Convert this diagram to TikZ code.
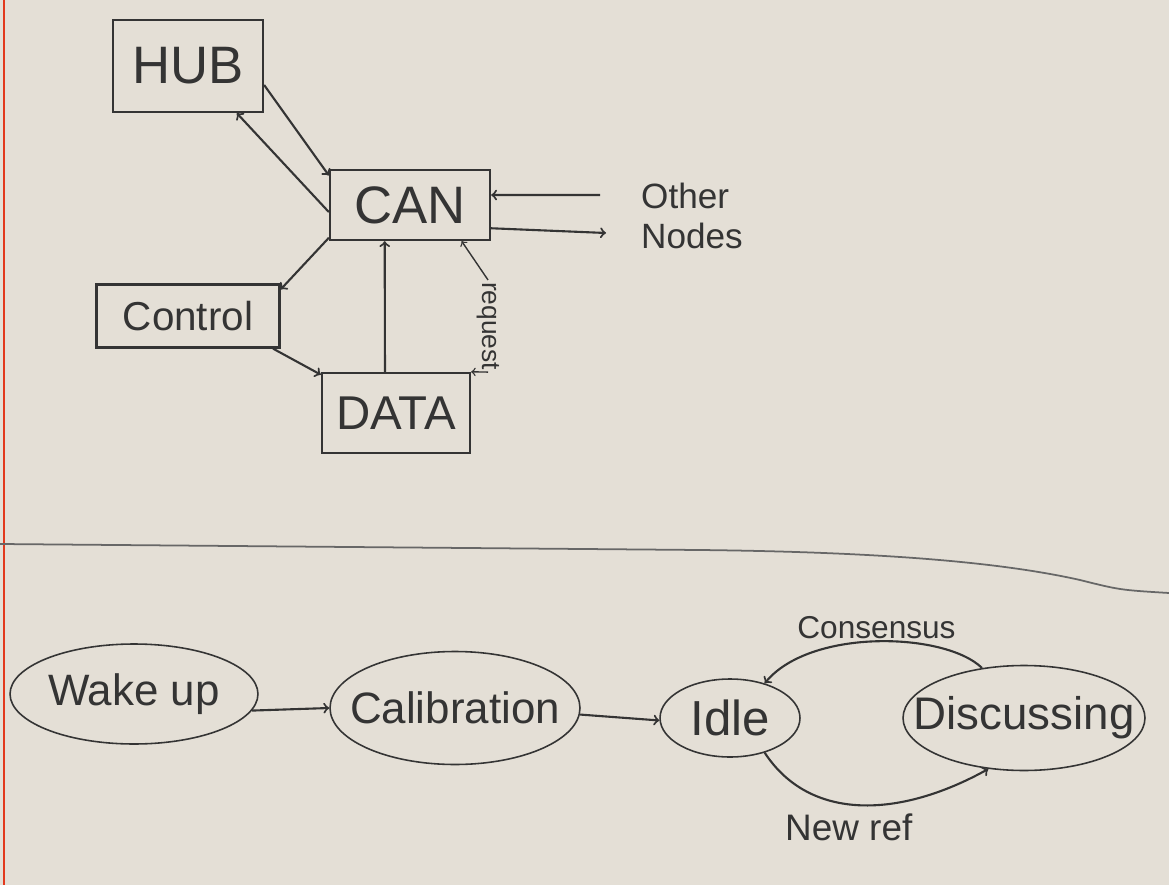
\documentclass[tikz,border=0pt]{standalone}
\usepackage{fontspec}
\setmainfont{Liberation Sans}
\usetikzlibrary{shapes.geometric}
\definecolor{paper}{RGB}{228,223,214}
\definecolor{pencil}{RGB}{52,52,52}

\begin{document}
\begin{tikzpicture}[x=0.02cm,y=-0.02cm,
  box/.style={draw=pencil, text=pencil, line width=1.3pt, inner sep=0pt},
  state/.style={draw=pencil, line width=0.9pt, ellipse, inner sep=0pt},
  wire/.style={draw=pencil, line width=1.2pt, ->},
  note/.style={text=pencil, inner sep=1pt}]
% paper
\fill[paper] (0,0) rectangle (1169,885);
\useasboundingbox (0,0) rectangle (1169,885);
\draw[red!55!brown, line width=1pt] (4,0) -- (4,885);

% top: bus layout
\node[box, minimum width=3cm, minimum height=1.84cm, font=\fontsize{30}{34}\selectfont] (hub) at (188,66) {HUB};
\node[box, minimum width=3.2cm, minimum height=1.4cm, font=\fontsize{30}{34}\selectfont] (can) at (410,205) {CAN};
\node[box, minimum width=3.66cm, minimum height=1.26cm, font=\fontsize{23}{27}\selectfont] (ctrl) at (188,316) {Control};
\node[box, minimum width=2.96cm, minimum height=1.6cm, font=\fontsize{27}{31}\selectfont] (data) at (396,413) {DATA};
\node[note, align=left, font=\fontsize{20}{23}\selectfont] (other) at (692,216) {Other\\Nodes};
\node[note, rotate=-90, font=\fontsize{15}{18}\selectfont] (req) at (488,326) {request};
\coordinate (in) at (600,195);
\coordinate (out) at (606,233);

\draw[wire] (hub.-14) -- (can.160);
\draw[wire] (can.185) -- (hub.-44);
\draw[wire] (can.202) -- (ctrl.16);
\draw[wire] (ctrl.-21) -- (data.153);
\draw[wire] (data.105) -- (can.235);
\draw[wire] (in) -- (can.7);
\draw[wire] (can.-16) -- (out);
\draw[wire, line width=0.8pt] (req.west) -- (can.-35);
\draw[wire, line width=0.8pt] (req.east) -- (data.north east);

% divider
\draw[pencil!75, line width=1pt] (0,544) -- (700,550) .. controls (880,552) and (1000,562) .. (1080,580) .. controls (1120,590) .. (1169,593);

% bottom: states
\node[state, minimum width=4.96cm, minimum height=2cm,
  label={[text=pencil, font=\fontsize{25}{29}\selectfont]center:Wake up}] (wake) at (134,694) {};
\node[state, minimum width=5cm, minimum height=2.26cm,
  label={[text=pencil, font=\fontsize{25}{29}\selectfont]center:Calibration}] (calib) at (455,708) {};
\node[state, minimum width=2.8cm, minimum height=1.56cm,
  label={[text=pencil, font=\fontsize{28}{32}\selectfont]center:Idle}] (idle) at (730,718) {};
\node[state, minimum width=4.84cm, minimum height=2.1cm,
  label={[text=pencil, font=\fontsize{26}{30}\selectfont]center:Discussing}] (disc) at (1024,718) {};

\draw[wire] (wake.-8) -- (calib.west);
\draw[wire] (calib.-3) -- (idle.182);
\draw[wire] (disc.130) .. controls (945,632) and (810,628) .. node[note, above, pos=0.5, font=\fontsize{18}{21}\selectfont] {Consensus} (idle.45);
\draw[wire] (idle.-45) .. controls (810,822) and (900,818) .. node[note, below=4pt, pos=0.45, font=\fontsize{21}{24}\selectfont] {New ref} (disc.-125);
\end{tikzpicture}
\end{document}
